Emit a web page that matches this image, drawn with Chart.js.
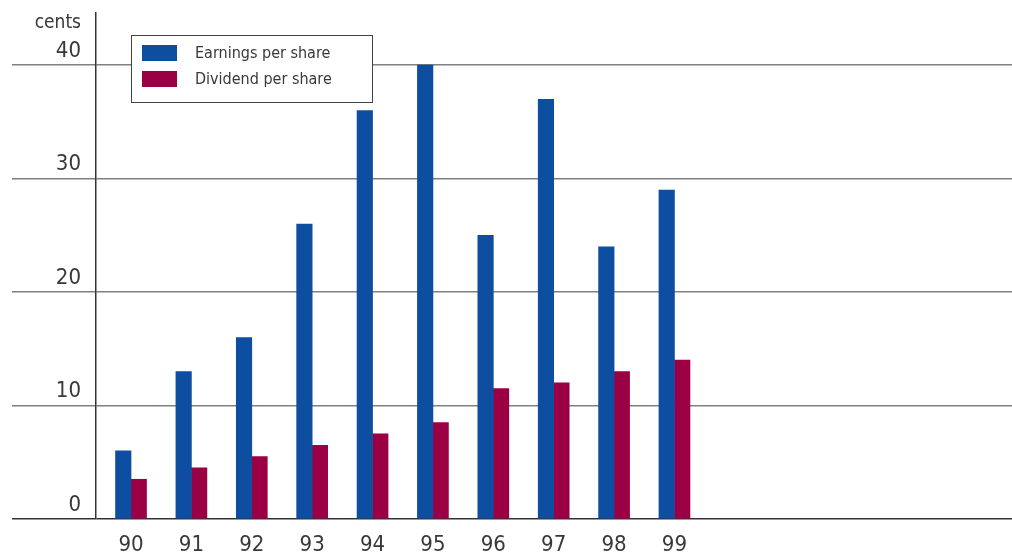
<!DOCTYPE html>
<html>
<head>
<meta charset="utf-8">
<title>Earnings and dividend per share</title>
<script src="https://cdn.jsdelivr.net/npm/chart.js@4/dist/chart.umd.min.js"></script>
<style>
  html, body { margin: 0; padding: 0; background: #fff; }
  #chart { display: block; }
</style>
</head>
<body>
<canvas id="chart" width="1012" height="553"></canvas>
<script>
// values in cents, one per year
const years = ['90', '91', '92', '93', '94', '95', '96', '97', '98', '99'];
const earnings = [6, 13, 16, 26, 36, 40, 25, 37, 24, 29];
const dividends = [3.5, 4.5, 5.5, 6.5, 7.5, 8.5, 11.5, 12, 13, 14];
const yTicks = [0, 10, 20, 30, 40];

const seriesNames = ['Earnings per share', 'Dividend per share'];
const seriesColors = ['#0d4ea1', '#9b0044'];

const FONT = '"Liberation Sans Narrow", "DejaVu Sans Condensed", sans-serif';
const TEXT = '#383838';

const toPoints = (vals) => vals.map((v, i) => ({ x: i, y: v }));

// boxed legend + the unit caption above the value axis
const decorations = {
  id: 'decorations',
  afterDraw(chart) {
    const ctx = chart.ctx;
    ctx.save();

    ctx.font = '19px ' + FONT;
    ctx.fillStyle = TEXT;
    ctx.textAlign = 'right';
    ctx.textBaseline = 'middle';
    ctx.fillText('cents', 81, 23);

    const bx = 131.5, by = 35.5, bw = 241, bh = 67;
    ctx.fillStyle = '#fff';
    ctx.fillRect(bx, by, bw, bh);
    ctx.strokeStyle = '#444';
    ctx.lineWidth = 1;
    ctx.strokeRect(bx, by, bw, bh);

    ctx.font = '16px ' + FONT;
    ctx.textAlign = 'left';
    chart.data.datasets.forEach((ds, i) => {
      const y = 45 + i * 26;
      ctx.fillStyle = ds.backgroundColor;
      ctx.fillRect(142, y, 35, 16);
      ctx.fillStyle = TEXT;
      ctx.fillText(ds.label, 195, y + 8.5);
    });
    ctx.restore();
  }
};

new Chart(document.getElementById('chart'), {
  type: 'bar',
  data: {
    datasets: [
      { label: seriesNames[0], data: toPoints(earnings), backgroundColor: seriesColors[0] },
      { label: seriesNames[1], data: toPoints(dividends), backgroundColor: seriesColors[1] }
    ]
  },
  options: {
    responsive: false,
    animation: false,
    layout: { padding: { top: 13, right: 0, left: 0, bottom: 0 } },
    barThickness: 15.5,
    plugins: {
      legend: { display: false },
      tooltip: { enabled: false }
    },
    scales: {
      x: {
        type: 'linear',
        offset: false,
        min: -0.58,
        max: 14.59,
        grid: { display: false, offset: false },
        border: { display: false },
        afterBuildTicks: (scale) => { scale.ticks = years.map((_, i) => ({ value: i })); },
        afterFit: (scale) => { scale.height = 34; },
        ticks: {
          autoSkip: false,
          maxRotation: 0,
          padding: 5,
          color: TEXT,
          font: { family: FONT, size: 22 },
          callback: (v) => years[v]
        }
      },
      y: {
        min: 0,
        max: 44.6,
        afterBuildTicks: (scale) => { scale.ticks = yTicks.map((v) => ({ value: v })); },
        afterFit: (scale) => { scale.width = 96; },
        grid: {
          color: (c) => (c.tick && c.tick.value === 0 ? '#333' : '#808080'),
          lineWidth: 1.5,
          tickLength: 84
        },
        border: { display: true, color: '#333', width: 1.5 },
        ticks: {
          padding: -69,
          labelOffset: -14,
          color: TEXT,
          font: { family: FONT, size: 22 }
        }
      }
    }
  },
  plugins: [decorations]
});
</script>
</body>
</html>
